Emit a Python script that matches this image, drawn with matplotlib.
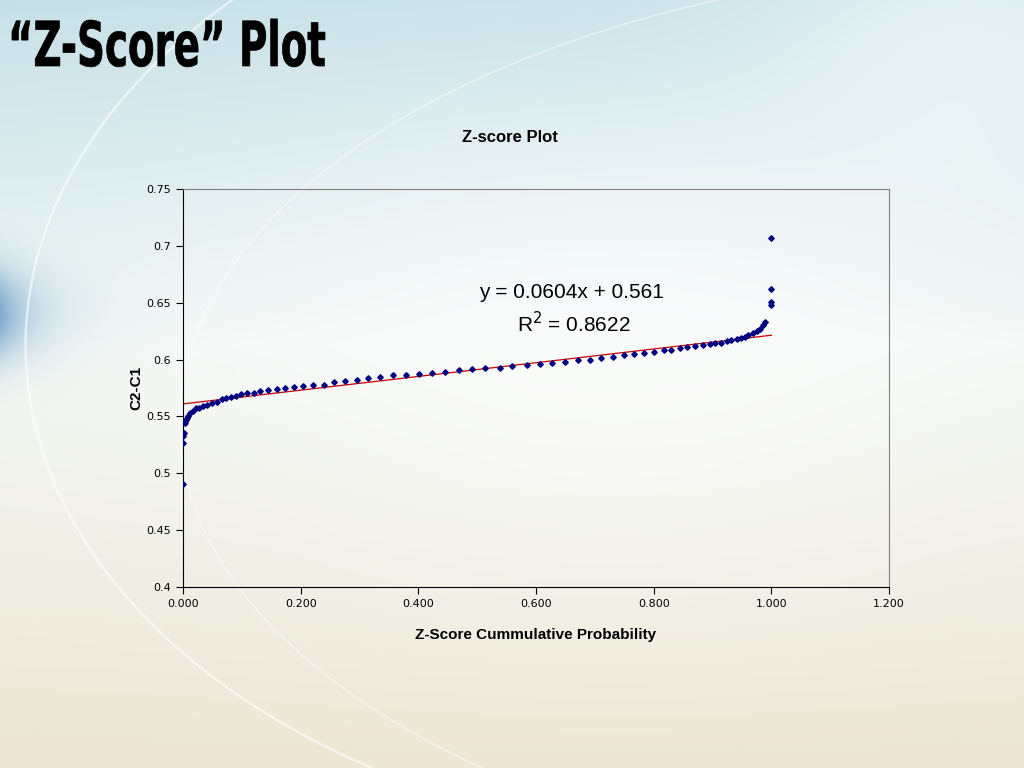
import numpy as np
import matplotlib.pyplot as plt
from matplotlib.patches import Arc, PathPatch
from matplotlib.textpath import TextPath
from matplotlib.font_manager import FontProperties
from matplotlib.transforms import Affine2D, IdentityTransform
from matplotlib.ticker import FormatStrFormatter, FuncFormatter

# values
prob = [0.000, 0.000, 0.000, 0.002, 0.003, 0.005, 0.007, 0.008, 0.012, 0.017,
        0.022, 0.027, 0.034, 0.041, 0.049, 0.058, 0.066, 0.073, 0.081, 0.090,
        0.098, 0.109, 0.121, 0.131, 0.144, 0.160, 0.173, 0.188, 0.204, 0.221,
        0.239, 0.256, 0.275, 0.295, 0.314, 0.334, 0.357, 0.379, 0.401, 0.423,
        0.445, 0.469, 0.491, 0.514, 0.538, 0.560, 0.584, 0.606, 0.628, 0.649,
        0.671, 0.691, 0.711, 0.730, 0.749, 0.766, 0.783, 0.800, 0.817, 0.830,
        0.844, 0.857, 0.871, 0.883, 0.895, 0.905, 0.915, 0.924, 0.932, 0.941,
        0.949, 0.956, 0.961, 0.968, 0.975, 0.980, 0.985, 0.990, 1.000, 1.000,
        1.000, 1.000]
diff = [0.491, 0.527, 0.533, 0.535, 0.544, 0.547, 0.549, 0.550, 0.553, 0.555,
        0.557, 0.557, 0.559, 0.560, 0.562, 0.563, 0.565, 0.566, 0.567, 0.568,
        0.570, 0.571, 0.571, 0.572, 0.573, 0.574, 0.575, 0.576, 0.577, 0.578,
        0.578, 0.580, 0.581, 0.582, 0.584, 0.585, 0.586, 0.586, 0.587, 0.588,
        0.589, 0.591, 0.592, 0.593, 0.593, 0.594, 0.595, 0.596, 0.597, 0.598,
        0.600, 0.600, 0.601, 0.602, 0.604, 0.605, 0.606, 0.607, 0.608, 0.608,
        0.610, 0.611, 0.612, 0.613, 0.614, 0.615, 0.615, 0.616, 0.617, 0.618,
        0.619, 0.620, 0.622, 0.623, 0.625, 0.627, 0.630, 0.633, 0.648, 0.651,
        0.662, 0.707]

slope = 0.0604
intercept = 0.561
r2 = 0.8622

fig = plt.figure(figsize=(10.24, 7.68), dpi=100)

# slide background
bg = fig.add_axes([0, 0, 1, 1])
bg.set_axis_off()
yy, xx = np.mgrid[0:1:300j, 0:1:400j]
top = np.array([0.78, 0.88, 0.91])
mid = np.array([0.95, 0.97, 0.96])
bot = np.array([0.93, 0.90, 0.83])
t = yy[..., None]
col = np.where(t < 0.45, top + (mid - top) * (t / 0.45),
               mid + (bot - mid) * ((t - 0.45) / 0.55))
# bluish band on the left edge
band = np.exp(-((yy - 0.41) / 0.06) ** 2) * np.exp(-xx / 0.035)
col = col - band[..., None] * np.array([0.45, 0.3, 0.15])
# lighter centre and top right
glow = np.exp(-((xx - 0.6) ** 2 / 0.15 + (yy - 0.45) ** 2 / 0.1))
col = col + glow[..., None] * (1 - col) * 0.6
glow2 = np.exp(-((xx - 0.95) ** 2 / 0.05 + (yy - 0.05) ** 2 / 0.05))
col = col + glow2[..., None] * (1 - col) * 0.5
bg.imshow(np.clip(col, 0, 1), extent=[0, 1, 1, 0], aspect='auto')
bg.set_xlim(0, 1)
bg.set_ylim(1, 0)
bg.add_patch(Arc((0.75, 0.55), 1.45, 1.3, theta1=0, theta2=360,
                 transform=bg.transAxes, color='white', lw=1.8, alpha=0.6))
bg.add_patch(Arc((1.05, 0.45), 1.75, 1.2, theta1=0, theta2=360,
                 transform=bg.transAxes, color='white', lw=1.2, alpha=0.45))

# slide title, squeezed sideways to look like a condensed face
fp = FontProperties(family='DejaVu Sans', weight='bold')
tp = TextPath((0, 0), '\u201cZ-Score\u201d Plot', size=62, prop=fp)
ext = tp.get_extents()
sx = 313 / ext.width
trans = Affine2D().translate(-ext.x0, 0).scale(sx, 1).translate(12, 768 - 66)
fig.patches.append(PathPatch(tp, transform=trans + IdentityTransform(),
                             facecolor='black', edgecolor='black', lw=0.5,
                             figure=fig))

ax = fig.add_axes([0.1787, 0.2357, 0.6895, 0.5182])
ax.patch.set_alpha(0)
ax.plot(prob, diff, 'D', color='#000080', markersize=2.8, zorder=3)
xs = np.array([0.0, 1.0])
ax.plot(xs, slope * xs + intercept, color='#cc0000', lw=0.9, zorder=2)

ax.set_xlim(0, 1.2)
ax.set_ylim(0.4, 0.75)
ax.set_xticks(np.arange(0, 1.21, 0.2))
ax.set_yticks(np.arange(0.4, 0.751, 0.05))
ax.xaxis.set_major_formatter(FormatStrFormatter('%.3f'))
ax.yaxis.set_major_formatter(FuncFormatter(lambda v, p: f'{v:g}'))
ax.tick_params(direction='out', length=5, labelsize=8, colors='black')
for s in ['top', 'right']:
    ax.spines[s].set_color('#808080')
for s in ['left', 'bottom']:
    ax.spines[s].set_color('black')

fig.text(510 / 1024, 1 - 138 / 768, 'Z-score Plot', fontsize=12,
         fontweight='bold', family='Liberation Sans', ha='center', va='center')
ax.set_xlabel('Z-Score Cummulative Probability', fontsize=11, fontweight='bold',
              family='Liberation Sans', labelpad=14)
ax.set_ylabel('C2-C1', fontsize=11, fontweight='bold', family='Liberation Sans',
              labelpad=2)

ax.text(0.660, 0.6594, f'y = {slope}x + {intercept}', fontsize=15,
        family='Liberation Sans', ha='center', va='center')
ax.text(0.664, 0.6313, f'R$^2$ = {r2}', fontsize=15,
        family='Liberation Sans', ha='center', va='center')

fig.savefig('out.png', dpi=100)
